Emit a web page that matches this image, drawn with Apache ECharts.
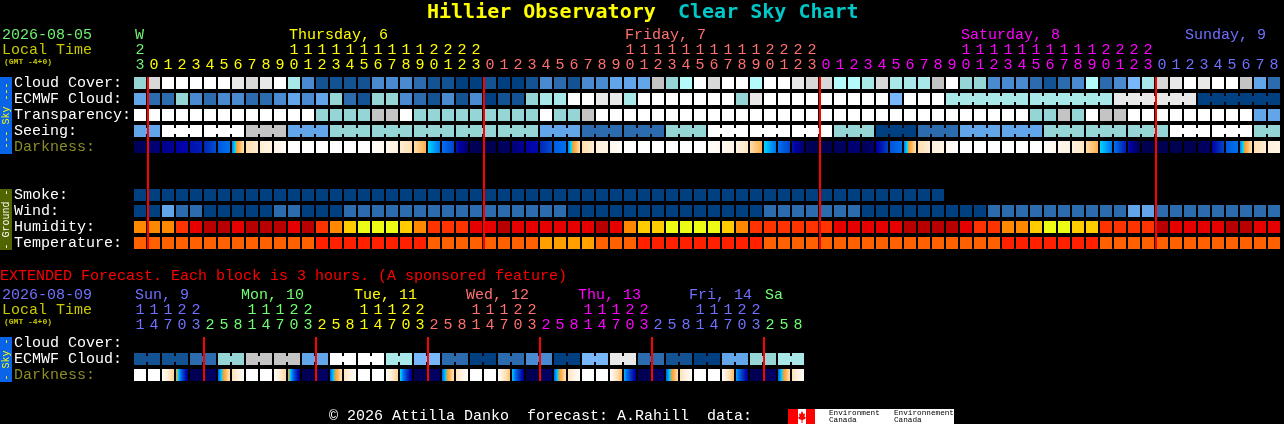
<!DOCTYPE html>
<html><head><meta charset="utf-8">
<style>html,body{margin:0;padding:0;background:#000}#c{width:1284px;height:424px}</style>
<script src="https://cdn.jsdelivr.net/npm/echarts@6/dist/echarts.min.js"></script>
</head><body><div id="c"></div>
<script>
// ---------- DATA ----------
const rowNames = ['Cloud Cover:','ECMWF Cloud:','Transparency:','Seeing:','Darkness:','','','Smoke:','Wind:','Humidity:','Temperature:'];
const extRowNames = ['Cloud Cover:','ECMWF Cloud:','Darkness:'];
const hours = [23,0,1,2,3,4,5,6,7,8,9,10,11,12,13,14,15,16,17,18,19,20,21,22,23,0,1,2,3,4,5,6,7,8,9,10,11,12,13,14,15,16,17,18,19,20,21,22,23,0,1,2,3,4,5,6,7,8,9,10,11,12,13,14,15,16,17,18,19,20,21,22,23,0,1,2,3,4,5,6,7,8];
const hourDays = [0,1,1,1,1,1,1,1,1,1,1,1,1,1,1,1,1,1,1,1,1,1,1,1,1,2,2,2,2,2,2,2,2,2,2,2,2,2,2,2,2,2,2,2,2,2,2,2,2,3,3,3,3,3,3,3,3,3,3,3,3,3,3,3,3,3,3,3,3,3,3,3,3,4,4,4,4,4,4,4,4,4];
const extHours = [11,14,17,20,23,2,5,8,11,14,17,20,23,2,5,8,11,14,17,20,23,2,5,8,11,14,17,20,23,2,5,8,11,14,17,20,23,2,5,8,11,14,17,20,23,2,5,8];
const extDays = [4,4,4,4,4,0,0,0,0,0,0,0,0,1,1,1,1,1,1,1,1,2,2,2,2,2,2,2,2,3,3,3,3,3,3,3,3,4,4,4,4,4,4,4,4,0,0,0];
const midnights = [1,25,49,73];
const extMidnights = [5,13,21,29,37,45];

const cloudCover = [6,10,12,12,12,12,12,11,10,11, 12,7,3,1,1,1,1,3,3,3, 2,1,1,0,0,1,0,0,1,3, 2,1,3,3,4,4,4,9,6,8, 12,10,12,12,8,12,12,11,10,10, 8,8,7,10,7,7,7,9,12,6, 6,3,3,3,2,1,2,3,8,2, 3,5,7,10,11,12,11,12,12,9, 4,2];
const ecmwf = [4,2,2,6,3,2,3,3,2,2, 3,4,3,4,6,2,1,6,6,3, 2,1,3,1,3,0,1,1,6,7, 7,12,12,11,11,7,12,12,12,12, 12,12,12,6,11,12,12,12,12,12, 12,12,12,12,5,12,12,12,7,7, 7,7,7,7,7,7,7,7,7,7, 11,11,11,11,11,11,0,0,0,0, 0,0];
const transparency = [12,12,12,12,12,12,12,12,12,12, 12,12,12,6,6,6,6,9,9,12, 6,6,6,6,6,6,6,6,6,12, 6,6,9,12,12,12,12,12,12,12, 12,12,12,12,12,12,12,12,12,12, 12,12,12,12,12,12,12,12,12,12, 12,12,12,12,6,6,9,6,12,9, 9,12,12,12,12,12,12,12,12,12, 4,4];
const seeing = [4,4, 12,12,12, 12,12,12, 9,9,9, 4,4,4, 6,6,6, 6,6,6, 6,6,6, 6,6,6, 6,6,6, 4,4,4, 2,2,2, 2,2,2, 6,6,6, 12,12,12, 12,12,12, 12,12,12, 6,6,6, 0,0,0, 2,2,2, 4,4,4, 4,4,4, 6,6,6, 6,6,6, 6,6,6, 12,12,12, 12,12,12, 6,6];
const darkFrom = [8.8,8.2,7.6,7,6.7,6.3,5.4,4.9,1.7,1.1, .7,0,0,0,0,0,0,.2,.5,1.1, 1.9,4.1,5,6.6,8.7,9,8.8,8,7,6.3, 5.3,4.9,1.8,1,.5,0,0,0,0,0, 0,.2,.4,.8,1.9,4.1,5,6.6,8.7,9, 8.7,8.2,8.8,7.2,5.5,4.9,1.7,1,.4,0, 0,0,0,0,0,.2,.5,.9,1.9,4.1, 5,6.6,9,9,9,9,8.8,7,5.4,4.9, 1.7,1];
const darkTo = [8.6,8,7.3,6.9,6.5,5.6,5,1.7,1.2,.7, .2,0,0,0,0,0,0,.4,.9,1.7, 3,5,5.8,8.2,9,9,8.5,7.4,6.8,5.6, 5,1.8,1.1,.6,.1,0,0,0,0,0, .1,.3,.7,1.4,3,5,5.8,8.2,9,9, 8.6,8.1,8.3,5.8,5,1.7,1.1,.6,.1,0, 0,0,0,0,0,.4,.8,1.3,3,5, 6.5,9,9,9,9,9,8.5,5.8,5,1.7, 1.1,.6];
const smoke = [0,0,0,0,0,0,0,0,0,0,0,0,0,0,0,0,0,0,0,0,0,0,0,0,0,0,0,0,0,0,0,0,0,0,0,0,0,0,0,0,0,0,0,0,0,0,0,0,0,0,0,0,0,0,0,0,0,0];
const wind = [0,0,4,2,2,0,0,0,0,0, 2,2,0,0,0,2,2,2,2,2, 2,2,2,2,2,2,2,2,2,2, 2,0,0,0,0,0,0,0,0,0, 0,0,0,0,0,2,2,2,2,2, 2,2,0,0,0,0,0,0,0,0, 0,2,2,2,2,2,2,2,2,2, 2,4,4,2,2,2,2,2,2,2, 2,2];
const humidity = [3,3,3,2,1,0,0,1,0,0, 0,1,0,2,3,4,5,5,5,4, 3,2,2,2,1,1,0,1,1,1, 1,1,1,0,1,3,4,4,5,5, 5,5,4,3,2,2,2,2,2,2, 1,1,1,1,1,0,0,0,0,1, 2,2,3,3,4,5,5,4,4,2, 2,2,2,0,1,1,1,1,0,0, 1,1];
const temperature = [1,1,1,1,1,1,1,1,1,1, 1,1,1,0,0,0,0,0,0,0, 0,1,1,1,1,1,1,1,1,2, 2,2,2,1,1,1,0,0,0,0, 0,0,0,0,0,1,1,1,1,1, 1,1,1,1,1,1,1,1,1,1, 1,1,0,0,0,0,0,0,0,1, 1,1,1,1,1,1,1,1,1,1, 1,1];
const extEcmwf = [1,1,1,1,2,2,6,6,9,9,9,9,4,4,12,12,12,12,7,7,5,5,2,2,0,0,2,2,3,3,0,0,5,5,11,11,2,2,1,1,0,0,4,4,6,6,7,7];
const extDarkFrom = [0,0,.1,3.4,9,8.8,5.2,1.6, 0,0,.1,3.4,9,8.7,5.2,1.5, 0,0,.1,4,9,8.7,5.2,1.5, 0,0,.1,4.2,9,8.7,5.2,1.5, 0,0,.1,4.4,9,8.7,5.2,1.6, 0,0,.1,4.5,9,8.7,5.2,1.6];
const extDarkTo = [0,0,2.2,7.5,8.8,8.5,1.6,.1, 0,0,2,7.5,8.8,8.5,1.6,.1, 0,0,2.2,7.5,8.8,8.5,1.6,.1, 0,0,2.6,7.3,8.8,8.5,1.6,.1, 0,0,2.8,7.3,8.8,8.5,1.8,.1, 0,0,2.8,7.3,8.8,8.5,1.8,.1];
const dayNames = ['Thursday, 6','Friday, 7','Saturday, 8','Sunday, 9'];
const extDayNames = ['Sun, 9','Mon, 10','Tue, 11','Wed, 12','Thu, 13','Fri, 14','Sa'];

// ---------- STYLE ----------
const MONO = '"Liberation Mono","DejaVu Sans Mono",monospace';
const skyPal = ['#003F80','#135394','#2C6CAE','#4A8AD0','#62A5E8','#78B8FA','#96D5D5','#A8E8E8','#B4FAFA','#C4C4C4','#D8D8D8','#E8E8E8','#FFFFFF'];
const humPal = ['#B80000','#E60000','#FF3300','#FF8800','#FFCC00','#ECFC14'];
const tempPal = ['#FF2000','#FF6000','#FFA000'];
const darkKeys = [0,1,2,3,3.65,4,5,6,7,8,9];
const darkScale = ['#FFFFFF','#FFEFD8','#FFD8A0','#FFB050','#FF9820','#00E0FF','#0070F0','#0038C0','#0000A8','#000078','#000050'];
const dayColors = ['#70F070','#FFFF00','#FF7070','#FF00FF','#7070FF'];
const extPalIdx = ['#70FF70','#FFFF00','#FF7070','#FF00FF','#7070FF'];
const OLIVE = '#8C8C28', LOCAL = '#C8C800';

function hex(c){return [1,3,5].map(k=>parseInt(c.substr(k,2),16));}
function darkColor(v){
  let a=0;while(a<darkKeys.length-2&&v>=darkKeys[a+1])a++;
  const t=(v-darkKeys[a])/(darkKeys[a+1]-darkKeys[a]),p=hex(darkScale[a]),q=hex(darkScale[a+1]);
  return 'rgb('+p.map((x,k)=>Math.round(x+(q[k]-x)*t)).join(',')+')';
}
function darkFill(a,b){
  if(a===b) return darkColor(a);
  const stops=[];for(let k=0;k<=24;k++)stops.push({offset:k/24,color:darkColor(a+(b-a)*k/24)});
  return new echarts.graphic.LinearGradient(0,0,1,0,stops);
}
const GAP=1, VGAP=2, NOTCH=3;
function cellRow(name,xi,yi,row,vals,pal,joined){
  return {name,type:'custom',xAxisIndex:xi,yAxisIndex:yi,animation:false,silent:true,encode:{x:0,y:1},
    data:vals.map((v,i)=>[i,row,v]),
    renderItem(p,api){
      const i=api.value(0),c=api.coord([i,row]),s=api.size([1,1]);
      const x=Math.round(c[0]-s[0]/2+GAP),y=Math.round(c[1]-s[1]/2+VGAP),w=s[0]-2*GAP,h=s[1]-2*VGAP;
      const fill=pal[api.value(2)];
      const ch=[{type:'rect',shape:{x,y,width:w,height:h},style:{fill}}];
      if(joined&&i<vals.length-1&&joined(i)) ch.push({type:'rect',shape:{x:x+w,y:y+NOTCH,width:2*GAP,height:h-2*NOTCH},style:{fill}});
      return {type:'group',children:ch};
    }};
}
function darkRow(name,xi,yi,row,from,to){
  return {name,type:'custom',xAxisIndex:xi,yAxisIndex:yi,animation:false,silent:true,encode:{x:0,y:1},
    data:from.map((v,i)=>[i,row,v,to[i]]),
    renderItem(p,api){
      const c=api.coord([api.value(0),row]),s=api.size([1,1]);
      return {type:'rect',shape:{x:Math.round(c[0]-s[0]/2+GAP),y:Math.round(c[1]-s[1]/2+VGAP),width:s[0]-2*GAP,height:s[1]-2*VGAP},
        style:{fill:darkFill(api.value(2),api.value(3))}};
    }};
}
function redLines(name,xi,yi,cols,lastRow){
  return {name,type:'custom',xAxisIndex:xi,yAxisIndex:yi,animation:false,silent:true,z:10,encode:{x:0},
    data:cols.map(i=>[i,0]),
    renderItem(p,api){
      const a=api.coord([api.value(0),0]),b=api.coord([api.value(0),lastRow]),s=api.size([1,1]);
      return {type:'rect',shape:{x:Math.round(a[0]-s[0]/2),y:a[1]-s[1]/2+VGAP,width:2,height:b[1]-a[1]+s[1]-2*VGAP},style:{fill:'#FF0000'}};
    }};
}
function hourAxis(grid,labels,colors,offset){
  return {type:'category',gridIndex:grid,position:'top',offset,boundaryGap:true,
    data:labels.map((v,i)=>({value:v,textStyle:{color:colors[i]}})),
    axisLine:{show:false},axisTick:{show:false},splitLine:{show:false},
    axisLabel:{show:true,interval:0,margin:2,fontFamily:MONO,fontSize:15,hideOverlap:false}};
}
function rowAxis(grid,names){
  return {type:'category',gridIndex:grid,inverse:true,
    data:names.map(n=>({value:n,textStyle:{color:n==='Darkness:'?OLIVE:'#FFFFFF',align:'left',padding:[0,0,3,0]}})),
    axisLine:{show:false},axisTick:{show:false},splitLine:{show:false},
    axisLabel:{interval:0,align:'left',margin:119,fontFamily:MONO,fontSize:15,padding:[0,0,3,0]}};
}
const units=a=>a.map(h=>String(h%10));
const tens=a=>a.map(h=>h>=10?String(Math.floor(h/10)):'');
const topCols=hourDays.map(d=>dayColors[d]);
const extCols=extDays.map(d=>extPalIdx[d]);

function txt(x,y,text,fill,size,extra){
  return {type:'text',silent:true,x,y,style:Object.assign({text,fill,fontFamily:MONO,fontSize:size||15,verticalAlign:'middle',align:'left'},extra||{})};
}
function sideBar(top,height,fill,color,text){
  return [{type:'rect',silent:true,shape:{x:0,y:top,width:12,height},style:{fill}},
    {type:'text',silent:true,x:6,y:top+height/2,rotation:Math.PI/2,style:{text,fill:color,fontFamily:MONO,fontSize:10,align:'center',verticalAlign:'middle'}}];
}
const dayX=[289,625,961,1185], extDayX=[135,241,354,466,578,689,765];
const dayClr=[dayColors[1],dayColors[2],dayColors[3],dayColors[4]];
const extDayClr=[extPalIdx[4],extPalIdx[0],extPalIdx[1],extPalIdx[2],extPalIdx[3],extPalIdx[4],extPalIdx[0]];
const graphic=[
  txt(427,13,'Hillier Observatory','#FFFF00',20,{fontWeight:'bold',fontFamily:'"DejaVu Sans Mono",monospace'}),
  txt(678,13,'Clear Sky Chart','#00C8C8',20,{fontWeight:'bold',fontFamily:'"DejaVu Sans Mono",monospace'}),
  txt(2,35,'2026-08-05','#70F070'),
  txt(2,50,'Local Time',LOCAL),
  txt(4,62,'(GMT -4+0)',LOCAL,8,{fontWeight:'bold'}),
  txt(135,35,'W',dayColors[0]),
  ...dayNames.map((n,i)=>txt(dayX[i],35,n,dayClr[i])),
  txt(0,276,'EXTENDED Forecast. Each block is 3 hours. (A sponsored feature)','#FF0000'),
  txt(2,295,'2026-08-09','#7070FF'),
  txt(2,310,'Local Time',LOCAL),
  txt(4,322,'(GMT -4+0)',LOCAL,8,{fontWeight:'bold'}),
  ...extDayNames.map((n,i)=>txt(extDayX[i],295,n,extDayClr[i])),
  ...sideBar(77,77,'#0A64E8','#FFFF00','--- Sky ---'),
  ...sideBar(189,61,'#506400','#FFFFFF','- Ground -'),
  ...sideBar(337,45,'#0A64E8','#FFFF00','- Sky -'),
  txt(329,416,'© 2026 Attilla Danko  forecast: A.Rahill  data:','#FFFFFF'),
  {type:'rect',silent:true,shape:{x:788,y:409,width:166,height:15},style:{fill:'#FFFFFF'}},
  {type:'rect',silent:true,shape:{x:788,y:409,width:10,height:15},style:{fill:'#FF0000'}},
  {type:'rect',silent:true,shape:{x:806,y:409,width:9,height:15},style:{fill:'#FF0000'}},
  {type:'polygon',silent:true,shape:{points:[[802,411],[803.5,414],[805,413.5],[804.5,417],[806,417],[805,419],[802.5,420],[802.5,423],[801.5,423],[801.5,420],[799,419],[798,417],[799.5,417],[799,413.5],[800.5,414]]},style:{fill:'#FF0000'}},
  txt(829,412.5,'Environment','#000000',7.7),
  txt(829,420,'Canada','#000000',7.7),
  txt(894,412.5,'Environnement','#000000',7.7),
  txt(894,420,'Canada','#000000',7.7)
];
const seeingJoined=i=>(i+1)%3!==2, ecmwfJoined=i=>i>=58&&(i-58)%6!==5, extJoined=i=>i%2===0;

const option={
  backgroundColor:'#000000',animation:false,
  grid:[{left:133,top:75,width:1148,height:176,outerBoundsMode:'none'},{left:133,top:335,width:672,height:48,outerBoundsMode:'none'}],
  xAxis:[hourAxis(0,units(hours),topCols,0),hourAxis(0,tens(hours),topCols,15),
         hourAxis(1,units(extHours),extCols,0),hourAxis(1,tens(extHours),extCols,15)],
  yAxis:[rowAxis(0,rowNames),rowAxis(1,extRowNames)],
  series:[
    cellRow('Cloud Cover',0,0,0,cloudCover,skyPal),
    cellRow('ECMWF Cloud',0,0,1,ecmwf,skyPal,ecmwfJoined),
    cellRow('Transparency',0,0,2,transparency,skyPal),
    cellRow('Seeing',0,0,3,seeing,skyPal,seeingJoined),
    darkRow('Darkness',0,0,4,darkFrom,darkTo),
    cellRow('Smoke',0,0,7,smoke,skyPal),
    cellRow('Wind',0,0,8,wind,skyPal),
    cellRow('Humidity',0,0,9,humidity,humPal),
    cellRow('Temperature',0,0,10,temperature,tempPal),
    redLines('Midnight',0,0,midnights,10),
    cellRow('Ext ECMWF',2,1,1,extEcmwf,skyPal,extJoined),
    darkRow('Ext Darkness',2,1,2,extDarkFrom,extDarkTo),
    redLines('Ext Midnight',2,1,extMidnights,2)
  ],
  graphic:{elements:graphic}
};
const chart=echarts.init(document.getElementById('c'),null,{width:1284,height:424,renderer:'canvas'});
chart.setOption(option);
</script></body></html>
